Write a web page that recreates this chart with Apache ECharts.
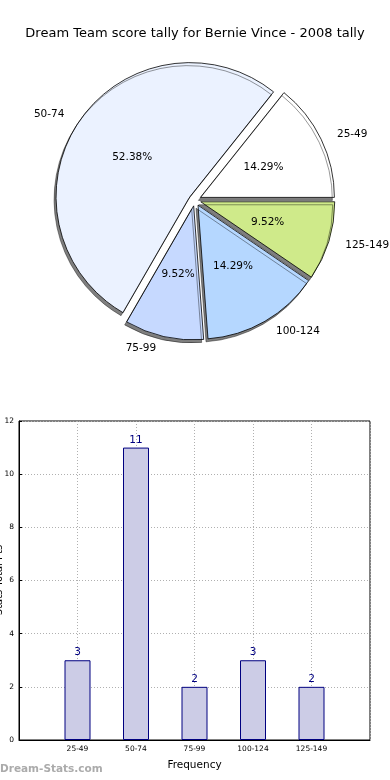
<!DOCTYPE html>
<html>
<head>
<meta charset="utf-8">
<script src="https://cdn.jsdelivr.net/npm/echarts@6/dist/echarts.min.js"></script>
<style>
html,body{margin:0;padding:0;background:#fff;}
#chart{width:390px;height:780px;}
</style>
</head>
<body>
<div id="chart"></div>
<script>
var titleText = 'Dream Team score tally for Bernie Vince - 2008 tally';
var categories = ['25-49', '50-74', '75-99', '100-124', '125-149'];
var tallies = [3, 11, 2, 3, 2];
var sliceColors = ['#ffffff', '#ebf2ff', '#c6d9ff', '#b5d7ff', '#cfea8a'];
var yTicks = [0, 2, 4, 6, 8, 10, 12];
var xAxisName = 'Frequency';
var yAxisName = 'Stats Total Pts';
var watermark = 'Dream-Stats.com';

var FONT = 'DejaVu Sans';
var pieData = categories.map(function (c, i) {
  return { name: c, value: tallies[i], selected: true, itemStyle: { color: sliceColors[i] } };
});
// padded category axis: one empty slot either side
var barCats = [''].concat(categories).concat(['']);
var barVals = [null].concat(tallies).concat([null]);

var pieCommon = {
  type: 'pie',
  center: [195, 200],
  radius: 134,
  startAngle: 0,
  clockwise: false,
  selectedMode: 'multiple',
  selectedOffset: 6,
  avoidLabelOverlap: false,
  animation: false,
  emphasis: { disabled: true },
  select: { disabled: false, itemStyle: {} }
};

var option = {
  animation: false,
  title: {
    text: titleText,
    left: 'center',
    top: 22,
    textStyle: { fontFamily: FONT, fontSize: 13, fontWeight: 'normal', color: '#000' }
  },
  graphic: [{
    type: 'text',
    left: 0,
    top: 764,
    style: { text: watermark, font: 'bold 10.5px "DejaVu Sans"', fill: '#ababab' }
  }, {
    type: 'text',
    x: -1,
    y: 580,
    rotation: Math.PI / 2,
    style: {
      text: yAxisName, font: '10px "DejaVu Sans"', fill: '#000',
      align: 'center', verticalAlign: 'middle'
    }
  }],
  grid: {
    left: 19, right: 20, top: 421, bottom: 40,
    containLabel: false,
    outerBoundsMode: 'none',
    show: true, borderColor: '#000', borderWidth: 1, backgroundColor: 'transparent'
  },
  xAxis: {
    type: 'category',
    data: barCats,
    boundaryGap: false,
    name: xAxisName,
    nameLocation: 'middle',
    nameGap: 20,
    nameTextStyle: { fontFamily: FONT, fontSize: 10.5, color: '#000' },
    axisLine: { lineStyle: { color: '#000' } },
    axisTick: { show: false },
    axisLabel: { fontFamily: FONT, fontSize: 7.5, color: '#000', margin: 5, interval: 0 },
    splitLine: { show: true, lineStyle: { color: '#b0b0b0', type: [1, 2] } }
  },
  yAxis: {
    type: 'value',
    min: 0, max: 12, interval: 2,
    axisLine: { show: true, lineStyle: { color: '#000' } },
    axisTick: { show: true, inside: true, length: 3, lineStyle: { color: '#000' } },
    axisLabel: { fontFamily: FONT, fontSize: 7.5, color: '#000', margin: 5,
      formatter: function (v) { return yTicks.indexOf(v) >= 0 ? String(v) : ''; } },
    splitLine: { show: true, lineStyle: { color: '#b0b0b0', type: [1, 2] } }
  },
  series: [
    Object.assign({}, pieCommon, {
      data: pieData,
      itemStyle: {
        borderColor: '#000', borderWidth: 0.8,
        shadowColor: 'rgba(0,0,0,0.5)', shadowBlur: 0, shadowOffsetX: -2, shadowOffsetY: 3
      },
      label: {
        show: true, position: 'inside',
        fontFamily: FONT, fontSize: 10.5, color: '#000',
        formatter: function (p) { return p.percent.toFixed(2) + '%'; }
      },
      labelLine: { show: false }
    }),
    Object.assign({}, pieCommon, {
      silent: true,
      z: 3,
      data: pieData.map(function (d) {
        return { name: d.name, value: d.value, selected: true };
      }),
      itemStyle: { color: 'rgba(0,0,0,0)', borderWidth: 0 },
      label: {
        show: true, position: 'outside',
        fontFamily: FONT, fontSize: 10.5, color: '#000',
        formatter: '{b}'
      },
      labelLine: { show: false, length: 12, length2: 0 }
    }),
    {
      type: 'bar',
      data: barVals,
      barWidth: 26,
      itemStyle: { color: '#ccccE6', borderColor: '#000080', borderWidth: 1 },
      label: { show: true, position: 'top', distance: 2, fontFamily: FONT, fontSize: 10.5, color: '#000080' },
      emphasis: { disabled: true }
    }
  ]
};

var chart = echarts.init(document.getElementById('chart'), null, { renderer: 'canvas' });
chart.setOption(option);
</script>
</body>
</html>
